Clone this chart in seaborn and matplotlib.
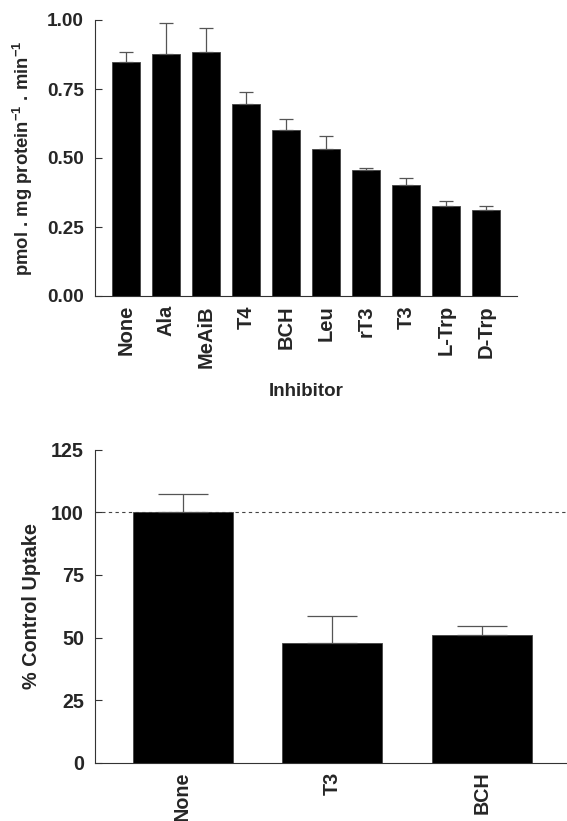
import matplotlib
matplotlib.use("Agg")
import matplotlib.pyplot as plt
import seaborn as sns
import numpy as np
import pandas as pd

# ---- data ----
inhibitors = ["None", "Ala", "MeAiB", "T4", "BCH", "Leu", "rT3", "T3", "L-Trp", "D-Trp"]
uptake = [0.849, 0.877, 0.883, 0.697, 0.601, 0.531, 0.458, 0.402, 0.325, 0.312]
uptake_sem = [0.035, 0.112, 0.087, 0.043, 0.039, 0.050, 0.004, 0.024, 0.020, 0.014]
top_yticks = [0.00, 0.25, 0.50, 0.75, 1.00]

conditions = ["None", "T3", "BCH"]
pct_control = [100.0, 47.7, 51.0]
pct_sem = [7.2, 11.0, 3.5]
bottom_yticks = [0, 25, 50, 75, 100, 125]

sns.set_style("ticks")
plt.rcParams['font.family'] = ['Liberation Sans', 'DejaVu Sans']
plt.rcParams['mathtext.fontset'] = 'custom'
plt.rcParams['mathtext.rm'] = 'Liberation Sans'
plt.rcParams['mathtext.bf'] = 'Liberation Sans:bold'

W, H = 567, 821
fig = plt.figure(figsize=(W / 100, H / 100), dpi=100)

axis_col = "#333333"
err_col = "#555555"

# ---- top panel ----
ax1 = fig.add_axes([95 / W, 1 - 296 / H, (517 - 95) / W, (296 - 20) / H])
df1 = pd.DataFrame({"inhibitor": inhibitors, "uptake": uptake})
sns.barplot(data=df1, x="inhibitor", y="uptake", color="black", saturation=1,
            width=0.68, errorbar=None, ax=ax1, edgecolor="#444444", linewidth=0.6)
ax1.errorbar(np.arange(len(inhibitors)), uptake,
             yerr=[np.zeros(len(uptake)), uptake_sem], fmt="none",
             ecolor=err_col, elinewidth=0.9, capsize=4.8, capthick=0.9, zorder=1)
ax1.set_xlim(-0.775, 9.775)
ax1.set_ylim(0, 1.0)
ax1.set_yticks(top_yticks)
ax1.set_yticklabels([f"{v:.2f}" for v in top_yticks])

# ---- bottom panel ----
ax2 = fig.add_axes([95 / W, 1 - 762.7 / H, (567 - 95) / W, (762.7 - 449.7) / H])
df2 = pd.DataFrame({"condition": conditions, "pct": pct_control})
sns.barplot(data=df2, x="condition", y="pct", color="black", saturation=1,
            width=0.667, errorbar=None, ax=ax2, edgecolor="#444444", linewidth=0.6)
ax2.errorbar(np.arange(len(conditions)), pct_control,
             yerr=[np.zeros(len(pct_control)), pct_sem], fmt="none",
             ecolor=err_col, elinewidth=0.9, capsize=18, capthick=0.9, zorder=1)
ax2.axhline(100, color="#444444", linestyle=(0, (3, 3)), linewidth=0.8, zorder=0.5)
ax2.set_xlim(-0.585, 2.567)
ax2.set_ylim(0, 125)
ax2.set_yticks(bottom_yticks)

for ax, yfs, xfs in ((ax1, 13.7, 14.5), (ax2, 14.2, 14.2)):
    for s in ("top", "right"):
        ax.spines[s].set_visible(False)
    for s in ("left", "bottom"):
        ax.spines[s].set_color(axis_col)
        ax.spines[s].set_linewidth(0.8)
    ax.tick_params(axis="y", direction="in", length=5, width=0.8, color=axis_col,
                   pad=8, labelsize=yfs)
    ax.tick_params(axis="x", length=0, pad=6.5, labelsize=xfs, labelrotation=90)
    for lab in ax.get_xticklabels() + ax.get_yticklabels():
        lab.set_fontweight("bold")

ax1.set_ylabel(r"pmol . mg protein$^{\mathbf{-1}}$ . min$^{\mathbf{-1}}$",
               fontsize=13.3, fontweight="bold")
ax1.yaxis.set_label_coords(-0.142, 0.5)
ax1.set_xlabel("Inhibitor", fontsize=13.5, fontweight="bold")
ax1.xaxis.set_label_coords(0.5, -0.315)

ax2.set_ylabel("% Control Uptake", fontsize=14.3, fontweight="bold")
ax2.yaxis.set_label_coords(-0.115, 0.5)
ax2.set_xlabel("")

fig.savefig("out.png", dpi=100)
